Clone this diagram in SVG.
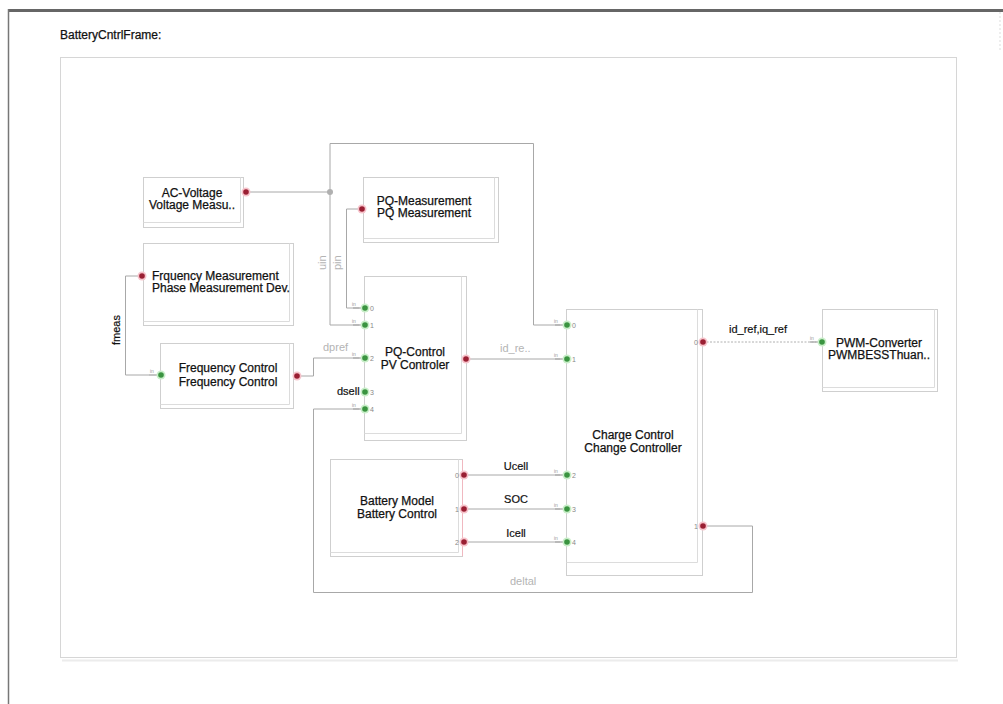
<svg xmlns="http://www.w3.org/2000/svg" width="1003" height="704" viewBox="0 0 1003 704">
  <style>
    .lbl { font-family: "Liberation Sans", Arial, sans-serif; font-size: 12px; fill: #111; stroke: #111; stroke-width: 0.25; }
    .sig { font-family: "Liberation Sans", Arial, sans-serif; font-size: 11px; fill: #111; stroke: #111; stroke-width: 0.2; }
    .faint { font-family: "Liberation Sans", Arial, sans-serif; font-size: 11px; fill: #b4b4b4; }
    .num { font-family: "Liberation Sans", Arial, sans-serif; font-size: 7px; fill: #888; }
    .tiny { font-family: "Liberation Sans", Arial, sans-serif; font-size: 5px; fill: #999; }
    .box { fill: #fff; stroke: #cfcfcf; stroke-width: 1; }
    .inner { fill: none; stroke: #dcdcdc; stroke-width: 1; }
    .wire { fill: none; stroke: #a8a8a8; stroke-width: 1; }
    .dash { fill: none; stroke: #b0b0b0; stroke-width: 1; stroke-dasharray: 2 1.5; }
    .stub { stroke: #b0b0b0; stroke-width: 1.5; }
    .pin { fill: #3a9440; }
    .pinHalo { fill: #c9eec9; }
    .pout { fill: #9a1f33; }
    .poutHalo { fill: #f6c3cb; }
  </style>

  <rect width="1003" height="704" fill="#fff"/>

  <!-- page border -->
  <line x1="8" y1="10.5" x2="1003" y2="10.5" stroke="#666" stroke-width="3"/>
  <line x1="8.5" y1="9" x2="8.5" y2="704" stroke="#777" stroke-width="1.5"/>
  <line x1="1000" y1="12" x2="1000" y2="52" stroke="#ddd" stroke-width="1" stroke-dasharray="2 2"/>

  <!-- frame -->
  <text class="lbl" x="60" y="39" font-size="11">BatteryCntrlFrame:</text>
  <rect x="60.5" y="57.5" width="896" height="600" fill="none" stroke="#d6d6d6"/>
  <line x1="62" y1="660.5" x2="958" y2="660.5" stroke="#ececec" stroke-width="2"/>

  <!-- connectors -->
  <g id="connectors">
    <polyline class="wire" points="246,192 330,192"/>
    <polyline class="wire" points="330,192 330,143.5 533.5,143.5 533.5,325 560,325"/>
    <polyline class="wire" points="330,192 330,325 359,325"/>
    <polyline class="wire" points="362,209 346.5,209 346.5,308 359,308"/>
    <polyline class="wire" points="142,276 125.5,276 125.5,375 149,375"/>
    <polyline class="wire" points="297,376 313.5,376 313.5,358 359,358"/>
    <polyline class="wire" points="466,359 560,359"/>
    <polyline class="wire" points="703,526 752.5,526 752.5,592.5 313.5,592.5 313.5,409 359,409"/>
    <polyline class="wire" points="464,475 560,475"/>
    <polyline class="wire" points="464,509 560,509"/>
    <polyline class="wire" points="464,542 560,542"/>
    <polyline class="dash" points="703,342 816,342"/>
    <circle cx="330" cy="192" r="3" fill="#b0b0b0"/>

    <!-- signal names -->
    <text class="faint" x="0" y="0" transform="translate(326,270) rotate(-90)">uin</text>
    <text class="faint" x="0" y="0" transform="translate(341,270) rotate(-90)">pin</text>
    <text class="sig" x="0" y="0" transform="translate(120,345) rotate(-90)">fmeas</text>
    <text class="faint" x="323" y="351">dpref</text>
    <text class="faint" x="500" y="352">id_re..</text>
    <text class="faint" x="510" y="585">deltal</text>
    <text class="sig" x="516" y="470" text-anchor="middle">Ucell</text>
    <text class="sig" x="516" y="503" text-anchor="middle">SOC</text>
    <text class="sig" x="516" y="537" text-anchor="middle">Icell</text>
    <text class="sig" x="758" y="333" text-anchor="middle">id_ref,iq_ref</text>
  </g>

  <!-- AC-Voltage -->
  <g id="ac-voltage">
    <rect class="box" x="143.5" y="177.5" width="100" height="50"/>
    <polyline class="inner" points="240.5,177.5 240.5,222.5 143.5,222.5"/>
    <text class="lbl" x="192" y="197" text-anchor="middle">AC-Voltage</text>
    <text class="lbl" x="192" y="209" text-anchor="middle">Voltage Measu..</text>
    <circle class="poutHalo" cx="246" cy="192" r="4.5"/>
    <circle class="pout" cx="246" cy="192" r="2.8"/>
  </g>

  <!-- PQ-Measurement -->
  <g id="pq-measurement">
    <rect class="box" x="363.5" y="177.5" width="135" height="65"/>
    <polyline class="inner" points="494.5,177.5 494.5,238.5 363.5,238.5"/>
    <text class="lbl" x="424" y="205" text-anchor="middle">PQ-Measurement</text>
    <text class="lbl" x="424" y="217" text-anchor="middle">PQ Measurement</text>
    <circle class="poutHalo" cx="362" cy="209" r="4.5"/>
    <circle class="pout" cx="362" cy="209" r="2.8"/>
  </g>

  <!-- Frequency Measurement -->
  <g id="frequency-measurement">
    <rect class="box" x="143.5" y="243.5" width="150" height="82"/>
    <polyline class="inner" points="289.5,243.5 289.5,321.5 143.5,321.5"/>
    <text class="lbl" x="152" y="280">Frquency Measurement</text>
    <text class="lbl" x="152" y="292">Phase Measurement Dev.</text>
    <circle class="poutHalo" cx="142" cy="276" r="4.5"/>
    <circle class="pout" cx="142" cy="276" r="2.8"/>
  </g>

  <!-- Frequency Control -->
  <g id="frequency-control">
    <rect class="box" x="160.5" y="343.5" width="133" height="65"/>
    <polyline class="inner" points="289.5,343.5 289.5,404.5 160.5,404.5"/>
    <text class="lbl" x="228" y="372" text-anchor="middle">Frequency Control</text>
    <text class="lbl" x="228" y="386" text-anchor="middle">Frequency Control</text>
    <line class="stub" x1="149" y1="375" x2="158" y2="375"/>
    <text class="tiny" x="150" y="373">in</text>
    <circle class="pinHalo" cx="161" cy="375" r="4.5"/>
    <circle class="pin" cx="161" cy="375" r="2.8"/>
    <circle class="poutHalo" cx="297" cy="376" r="4.5"/>
    <circle class="pout" cx="297" cy="376" r="2.8"/>
  </g>

  <!-- PQ-Control -->
  <g id="pq-control">
    <rect class="box" x="364.5" y="276.5" width="102" height="164"/>
    <polyline class="inner" points="461.5,276.5 461.5,433.5 364.5,433.5"/>
    <text class="lbl" x="415" y="356" text-anchor="middle">PQ-Control</text>
    <text class="lbl" x="415" y="369" text-anchor="middle">PV Controler</text>
    <g>
      <line class="stub" x1="353" y1="308" x2="362" y2="308"/>
      <line class="stub" x1="353" y1="325" x2="362" y2="325"/>
      <line class="stub" x1="353" y1="358" x2="362" y2="358"/>
      <line class="stub" x1="353" y1="409" x2="362" y2="409"/>
      <text class="tiny" x="352" y="306">in</text>
      <text class="tiny" x="352" y="323">in</text>
      <text class="tiny" x="352" y="356">in</text>
      <text class="tiny" x="352" y="407">in</text>
      <circle class="pinHalo" cx="365" cy="308" r="4.5"/><circle class="pin" cx="365" cy="308" r="2.8"/>
      <circle class="pinHalo" cx="365" cy="325" r="4.5"/><circle class="pin" cx="365" cy="325" r="2.8"/>
      <circle class="pinHalo" cx="365" cy="358" r="4.5"/><circle class="pin" cx="365" cy="358" r="2.8"/>
      <circle class="pinHalo" cx="365" cy="392" r="4.5"/><circle class="pin" cx="365" cy="392" r="2.8"/>
      <circle class="pinHalo" cx="365" cy="409" r="4.5"/><circle class="pin" cx="365" cy="409" r="2.8"/>
      <text class="num" x="370" y="311">0</text>
      <text class="num" x="370" y="328">1</text>
      <text class="num" x="370" y="361">2</text>
      <text class="num" x="370" y="395">3</text>
      <text class="num" x="370" y="412">4</text>
      <text class="sig" x="337" y="395" font-size="9">dsell</text>
    </g>
    <circle class="poutHalo" cx="466" cy="359" r="4.5"/>
    <circle class="pout" cx="466" cy="359" r="2.8"/>
  </g>

  <!-- Battery Model -->
  <g id="battery-model">
    <rect class="box" x="330.5" y="459.5" width="132" height="97"/>
    <polyline class="inner" points="458.5,459.5 458.5,552.5 330.5,552.5"/>
    <line x1="462.5" y1="460" x2="462.5" y2="556" stroke="#f0b8c0" stroke-width="1"/>
    <text class="lbl" x="397" y="505" text-anchor="middle">Battery Model</text>
    <text class="lbl" x="397" y="518" text-anchor="middle">Battery Control</text>
    <circle class="poutHalo" cx="464" cy="475" r="4.5"/><circle class="pout" cx="464" cy="475" r="2.8"/>
    <circle class="poutHalo" cx="464" cy="509" r="4.5"/><circle class="pout" cx="464" cy="509" r="2.8"/>
    <circle class="poutHalo" cx="464" cy="542" r="4.5"/><circle class="pout" cx="464" cy="542" r="2.8"/>
    <text class="num" x="455" y="478">0</text>
    <text class="num" x="455" y="512">1</text>
    <text class="num" x="455" y="545">2</text>
  </g>

  <!-- Charge Control -->
  <g id="charge-control">
    <rect class="box" x="566.5" y="309.5" width="136" height="266"/>
    <polyline class="inner" points="697.5,309.5 697.5,562.5 566.5,562.5"/>
    <text class="lbl" x="633" y="439" text-anchor="middle">Charge Control</text>
    <text class="lbl" x="633" y="452" text-anchor="middle">Change Controller</text>
    <g>
      <line class="stub" x1="555" y1="325" x2="564" y2="325"/>
      <line class="stub" x1="555" y1="359" x2="564" y2="359"/>
      <line class="stub" x1="555" y1="475" x2="564" y2="475"/>
      <line class="stub" x1="555" y1="509" x2="564" y2="509"/>
      <line class="stub" x1="555" y1="542" x2="564" y2="542"/>
      <text class="tiny" x="554" y="323">in</text>
      <text class="tiny" x="554" y="357">in</text>
      <text class="tiny" x="554" y="473">in</text>
      <text class="tiny" x="554" y="507">in</text>
      <text class="tiny" x="554" y="540">in</text>
      <circle class="pinHalo" cx="567" cy="325" r="4.5"/><circle class="pin" cx="567" cy="325" r="2.8"/>
      <circle class="pinHalo" cx="567" cy="359" r="4.5"/><circle class="pin" cx="567" cy="359" r="2.8"/>
      <circle class="pinHalo" cx="567" cy="475" r="4.5"/><circle class="pin" cx="567" cy="475" r="2.8"/>
      <circle class="pinHalo" cx="567" cy="509" r="4.5"/><circle class="pin" cx="567" cy="509" r="2.8"/>
      <circle class="pinHalo" cx="567" cy="542" r="4.5"/><circle class="pin" cx="567" cy="542" r="2.8"/>
      <text class="num" x="572" y="328">0</text>
      <text class="num" x="572" y="362">1</text>
      <text class="num" x="572" y="478">2</text>
      <text class="num" x="572" y="512">3</text>
      <text class="num" x="572" y="545">4</text>
    </g>
    <circle class="poutHalo" cx="703" cy="342" r="4.5"/><circle class="pout" cx="703" cy="342" r="2.8"/>
    <circle class="poutHalo" cx="703" cy="526" r="4.5"/><circle class="pout" cx="703" cy="526" r="2.8"/>
    <text class="num" x="694" y="345">0</text>
    <text class="num" x="694" y="529">1</text>
  </g>

  <!-- PWM-Converter -->
  <g id="pwm-converter">
    <rect class="box" x="822.5" y="309.5" width="115" height="82"/>
    <polyline class="inner" points="934.5,309.5 934.5,387.5 822.5,387.5"/>
    <text class="lbl" x="879" y="347" text-anchor="middle">PWM-Converter</text>
    <text class="lbl" x="879" y="359" text-anchor="middle">PWMBESSThuan..</text>
    <line class="stub" x1="810" y1="342" x2="819" y2="342"/>
    <text class="tiny" x="810" y="340">in</text>
    <circle class="pinHalo" cx="822" cy="342" r="4.5"/>
    <circle class="pin" cx="822" cy="342" r="2.8"/>
  </g>
</svg>
